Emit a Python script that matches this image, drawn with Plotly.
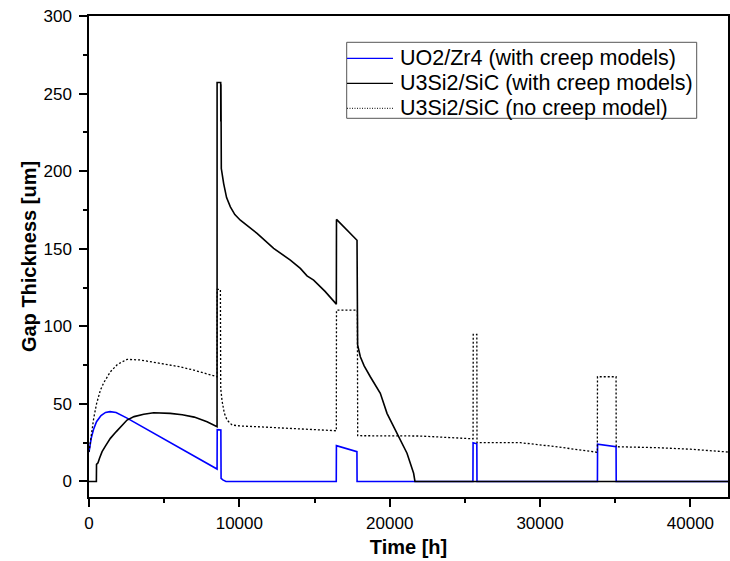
import plotly.graph_objects as go

# ---- data ----
t_uo2 = [0, 150, 300, 500, 800, 1100, 1400, 1800, 2500, 3500, 4500, 5500, 6500, 7500, 8517,
         8527, 8770, 8785, 8900, 9110, 16445, 16455, 17820, 17830, 25535, 25545, 25795, 25805,
         33815, 33825, 35055, 35065, 42500]
y_uo2 = [19, 28, 33.5, 38.5, 42.5, 44.5, 45, 44.5, 41, 35.5, 30, 24.5, 19, 13.5, 8,
         33.4, 33.2, 2, 1, 0, 0, 23.1, 19.2, 0, 0, 25, 24.3, 0,
         0, 24, 22.4, 0, 0]

t_si_creep = [0, 490, 500, 600, 700, 870, 1100, 1420, 1800, 2200, 2530, 3000, 3640, 4300, 5000,
              5400, 6200, 7000, 7850, 8517, 8520, 8760, 8768, 8776, 8784, 8792, 8800,
              8957, 9150, 9402, 9700, 10066, 10600, 11177, 12281, 13391, 14056, 14500, 14940, 15700, 16450,
              16460, 17826, 17834, 17842, 17850, 17858, 17866, 18046, 18300, 18710, 19375, 19820, 20040,
              20485, 21150, 21590, 21680, 42500]
y_si_creep = [0, 0, 11, 12, 15, 19.2, 23, 27.8, 32, 36.5, 39.6, 41.8, 43.3, 44.3, 44.2,
              43.9, 43, 41.5, 38.5, 35.3, 257.1, 257.1, 232, 256, 232, 254, 201.7,
              192, 183, 177, 172, 168.4, 164.5, 159.9, 150.2, 142.7, 137.3, 132.5, 129.8, 122.5, 114.3,
              168.9, 155.5, 117, 155, 117, 152, 88, 80.4, 74.5, 67.5, 56.8, 43.9, 39.6,
              31, 18.2, 5.3, 0, 0]

t_si_nocreep = [0, 100, 200, 312, 500, 758, 1000, 1423, 1900, 2533, 3418, 4747, 6000, 6963, 8517,
                8525, 8740, 8760, 8850, 9000, 9180, 9515, 10000, 11177, 13000, 14720, 16450,
                16460, 17850, 17870, 20000, 22000, 24000, 25545, 25555, 25795, 25805, 28700, 31000,
                33810, 33820, 35055, 35065, 37770, 40000, 42500]
y_si_nocreep = [19, 27, 35, 40.7, 50, 58.9, 64, 70.7, 75.5, 78.7, 78.3, 76.1, 74, 71.8, 67.5,
                123.8, 123.8, 60, 52, 44, 39.6, 36.4, 35.8, 35.3, 34.5, 33.6, 32.7,
                110.4, 110.4, 29.5, 29.5, 29.3, 28.3, 27.5, 94.8, 94.8, 25, 25, 22.5,
                18.8, 67.5, 67.5, 22.4, 21.8, 20.8, 19]

names = ["UO2/Zr4 (with creep models)", "U3Si2/SiC (with creep models)", "U3Si2/SiC (no creep model)"]
colors = ["#0000FF", "#000000", "#000000"]
widths = [1.6, 1.6, 1.3]
dashes = ["solid", "solid", "2px,2px"]

x_range = [0, 42500]
y_range = [-10, 300]

FONT = "Arial, 'Liberation Sans', sans-serif"

W, H = 730, 561
ML, MR, MT, MB = 89, 2, 16, 64
PW, PH = W - ML - MR, H - MT - MB


def px_x(p):
    return (p - ML) / PW


def px_y(p):
    return (H - MB - p) / PH


fig = go.Figure()
series = [(t_uo2, y_uo2), (t_si_creep, y_si_creep), (t_si_nocreep, y_si_nocreep)]
for (tx, ty), nm, c, w, d in zip(series, names, colors, widths, dashes):
    fig.add_trace(go.Scatter(x=tx, y=ty, mode="lines", name=nm, showlegend=False,
                             line=dict(color=c, width=w, dash=d)))

axis_common = dict(
    showline=True, linecolor="black", linewidth=1.5, mirror=True,
    ticks="outside", ticklen=8, tickwidth=1.5, tickcolor="black",
    showgrid=False, zeroline=False, automargin=False,
    tickfont=dict(family=FONT, size=17, color="black"),
)

fig.update_xaxes(
    range=x_range, dtick=10000, tick0=0, tickformat="d",
    minor=dict(ticks="outside", ticklen=4, tickwidth=1.5, tickcolor="black", dtick=5000),
    title=dict(text="Time [h]", font=dict(family=FONT, size=20, color="black", weight="bold"), standoff=8),
    ticklabelstandoff=2,
    **axis_common,
)
fig.update_yaxes(
    range=y_range, dtick=50, tick0=0,
    minor=dict(ticks="outside", ticklen=4, tickwidth=1.5, tickcolor="black", dtick=25),
    title=dict(text="Gap Thickness [um]", font=dict(family=FONT, size=20, color="black", weight="bold"), standoff=1),
    ticklabelstandoff=4,
    **axis_common,
)

# ---- legend box drawn as layout decoration ----
LEG_L, LEG_T, LEG_R, LEG_B = 346.7, 42.3, 696.7, 118.3
ROW0, ROW_STEP = 58.3, 25.0
SAMPLE_L, SAMPLE_R, TEXT_L = 347.0, 393.0, 398.0

shapes = [dict(type="rect", xref="paper", yref="paper",
               x0=px_x(LEG_L), x1=px_x(LEG_R), y0=px_y(LEG_B), y1=px_y(LEG_T),
               line=dict(color="#555555", width=1), fillcolor="white", layer="above")]
annotations = []
for i, (nm, c, w, d) in enumerate(zip(names, colors, widths, dashes)):
    yrow = ROW0 + i * ROW_STEP
    shapes.append(dict(type="line", xref="paper", yref="paper",
                       x0=px_x(SAMPLE_L), x1=px_x(SAMPLE_R), y0=px_y(yrow), y1=px_y(yrow),
                       line=dict(color=c, width=1.3 if i < 2 else 1.0,
                                 dash="solid" if i < 2 else "1px,1.5px"),
                       layer="above"))
    annotations.append(dict(xref="paper", yref="paper", x=px_x(TEXT_L), y=px_y(yrow),
                            xanchor="left", yanchor="middle", showarrow=False, text=nm,
                            font=dict(family=FONT, size=21.5, color="black")))

fig.update_layout(
    width=W, height=H,
    margin=dict(l=ML, r=MR, t=MT, b=MB),
    paper_bgcolor="white", plot_bgcolor="white",
    showlegend=False,
    shapes=shapes, annotations=annotations,
)

fig.write_html("out.html", config={"displayModeBar": False},
               post_script="document.body.style.margin='0';document.body.style.overflow='hidden';")
